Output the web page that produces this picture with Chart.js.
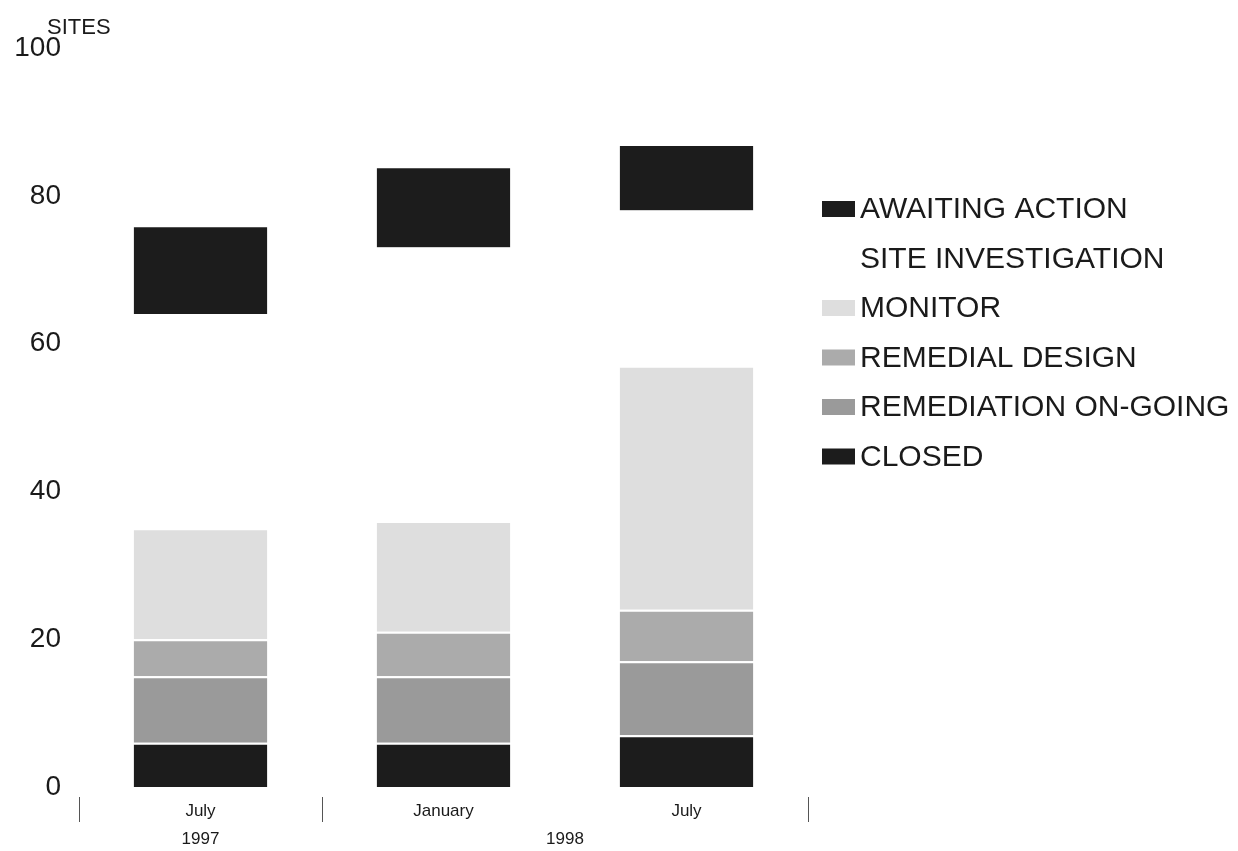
<!DOCTYPE html>
<html>
<head>
<meta charset="utf-8">
<script src="https://cdn.jsdelivr.net/npm/chart.js@4.4.1/dist/chart.umd.min.js"></script>
<style>
  html, body { margin: 0; padding: 0; background: #fff; }
  #wrap { width: 1238px; height: 851px; }
</style>
</head>
<body>
<div id="wrap"><canvas id="c" width="1238" height="851"></canvas></div>
<script>
// ---- data ----
const months = ["July", "January", "July"];
const yearGroups = ["1997", "1998"];
const yearGroupStart = [0, 1];
const yearGroupEnd = [0, 2];

const closed = [6, 6, 7];
const remediationOngoing = [9, 9, 10];
const remedialDesign = [5, 6, 7];
const monitor = [15, 15, 33];
const siteInvestigation = [29, 37, 21];
const awaitingAction = [12, 11, 9];

const yTicks = [0, 20, 40, 60, 80, 100];
const yTitle = "SITES";

const FONT = "'Liberation Sans', Arial, Helvetica, sans-serif";

const seg = (label, data, color, showSwatch) => ({
  label, data,
  backgroundColor: color,
  borderColor: '#ffffff',
  borderWidth: { top: 2, bottom: 0, left: 0, right: 0 },
  borderSkipped: false,
  barPercentage: 1,
  categoryPercentage: 0.55,
  stack: 's',
  showSwatch
});

const datasets = [
  seg("CLOSED", closed, '#1c1c1c', true),
  seg("REMEDIATION ON-GOING", remediationOngoing, '#9a9a9a', true),
  seg("REMEDIAL DESIGN", remedialDesign, '#ababab', true),
  seg("MONITOR", monitor, '#dedede', true),
  seg("SITE INVESTIGATION", siteInvestigation, '#ffffff', false),
  seg("AWAITING ACTION", awaitingAction, '#1c1c1c', true)
];

const extras = {
  id: 'extras',
  afterDraw(chart) {
    const ctx = chart.ctx;
    const x = chart.scales.x;
    const a = chart.chartArea;
    ctx.save();
    // y title
    ctx.fillStyle = '#1a1a1a';
    ctx.font = '22px ' + FONT;
    ctx.textAlign = 'left';
    ctx.textBaseline = 'middle';
    ctx.fillText(yTitle, a.left - 32, a.top - 20);

    // year groups and separators
    const half = (x.getPixelForValue(1) - x.getPixelForValue(0)) / 2;
    ctx.font = '17px ' + FONT;
    ctx.textAlign = 'center';
    ctx.strokeStyle = '#555';
    ctx.lineWidth = 1;
    const bounds = new Set();
    yearGroups.forEach((yr, i) => {
      const l = x.getPixelForValue(yearGroupStart[i]) - half;
      const r = x.getPixelForValue(yearGroupEnd[i]) + half;
      ctx.fillText(yr, (l + r) / 2, a.bottom + 52);
      bounds.add(Math.round(l)); bounds.add(Math.round(r));
    });
    bounds.forEach(bx => {
      ctx.beginPath();
      ctx.moveTo(bx + 0.5, a.bottom + 10);
      ctx.lineTo(bx + 0.5, a.bottom + 35);
      ctx.stroke();
    });

    // legend (reverse order)
    ctx.font = '30px ' + FONT;
    ctx.textAlign = 'left';
    ctx.textBaseline = 'middle';
    const lx = 822, ly0 = 209, step = 49.5;
    const ds = chart.data.datasets.slice().reverse();
    ds.forEach((d, i) => {
      const y = ly0 + i * step;
      if (d.showSwatch) {
        ctx.fillStyle = d.backgroundColor;
        ctx.fillRect(lx, y - 8, 33, 16);
      }
      ctx.fillStyle = '#1a1a1a';
      ctx.fillText(d.label, lx + 38, y + 1);
    });
    ctx.restore();
  }
};

new Chart(document.getElementById('c'), {
  type: 'bar',
  data: { labels: months, datasets },
  options: {
    responsive: false,
    animation: false,
    devicePixelRatio: 1,
    layout: { padding: { top: 48, right: 430, bottom: 0, left: 0 } },
    plugins: { legend: { display: false }, tooltip: { enabled: false }, title: { display: false } },
    scales: {
      x: {
        stacked: true,
        grid: { display: false, drawTicks: false },
        border: { display: false },
        ticks: { color: '#1a1a1a', font: { family: FONT, size: 17 }, padding: 14 },
        afterFit(s) { s.height = 64; }
      },
      y: {
        stacked: true,
        min: 0, max: 100,
        afterBuildTicks(s) { s.ticks = yTicks.map(v => ({ value: v })); },
        grid: { display: false, drawTicks: false },
        border: { display: false },
        ticks: { color: '#1a1a1a', font: { family: FONT, size: 28 }, padding: 18 },
        afterFit(s) { s.width = 79; }
      }
    }
  },
  plugins: [extras]
});
</script>
</body>
</html>
